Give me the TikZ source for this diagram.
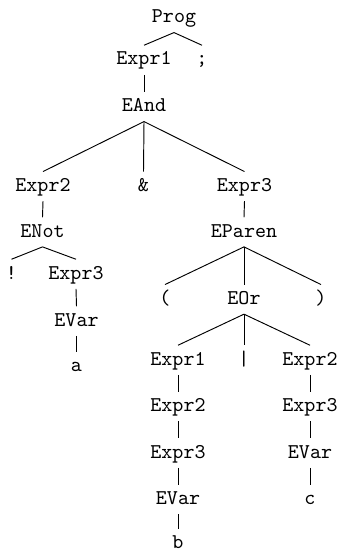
\documentclass[tikz,border=0pt]{standalone}
\begin{document}
\begin{tikzpicture}[x=0.476pt, y=-0.476pt,
  tn/.style={font=\ttfamily, anchor=base, text height=6.2pt, text depth=1.5pt, inner sep=3pt},
  branch/.style={line width=0.45pt}]
\useasboundingbox (0,0) rectangle (340,550);
% parse tree nodes, placed by (x, baseline)
\node[tn] (prog)   at (174,22.7)  {Prog};
\node[tn] (e1a)    at (144,65)    {Expr1};
\node[tn] (semi)   at (202,65)    {;};
\node[tn] (eand)   at (144,111.7) {EAnd};
\node[tn] (e2a)    at (43,191.3)  {Expr2};
\node[tn] (amp)    at (143.5,191.3) {\&};
\node[tn] (e3a)    at (244.5,191.3) {Expr3};
\node[tn] (enot)   at (42.5,237)  {ENot};
\node[tn] (eparen) at (244,237)   {EParen};
\node[tn] (bang)   at (11.5,279)  {!};
\node[tn] (e3b)    at (76,279)    {Expr3};
\node[tn] (evara)  at (76.5,326)  {EVar};
\node[tn] (va)     at (76.5,371.7) {a};
\node[tn] (lpar)   at (165,304.3) {(};
\node[tn] (eor)    at (244,304.3) {EOr};
\node[tn] (rpar)   at (321,304.3) {)};
\node[tn] (e1b)    at (178,365)   {Expr1};
\node[tn] (bar)    at (244,365)   {|};
\node[tn] (e2b)    at (310,365)   {Expr2};
\node[tn] (e2c)    at (178,411.5) {Expr2};
\node[tn] (e3c)    at (310,411.5) {Expr3};
\node[tn] (e3d)    at (178,458)   {Expr3};
\node[tn] (evarc)  at (310,458)   {EVar};
\node[tn] (evarb)  at (178,504.5) {EVar};
\node[tn] (vc)     at (310,504.5) {c};
\node[tn] (vb)     at (178,548.5) {b};
% branches
\foreach \p/\c in {prog/e1a, prog/semi, e1a/eand, eand/e2a, eand/amp, eand/e3a,
                   e2a/enot, enot/bang, enot/e3b, e3b/evara, evara/va,
                   e3a/eparen, eparen/lpar, eparen/eor, eparen/rpar,
                   eor/e1b, eor/bar, eor/e2b, e1b/e2c, e2c/e3d, e3d/evarb, evarb/vb,
                   e2b/e3c, e3c/evarc, evarc/vc}
  \draw[branch] (\p.south) -- (\c.north);
\end{tikzpicture}
\end{document}
